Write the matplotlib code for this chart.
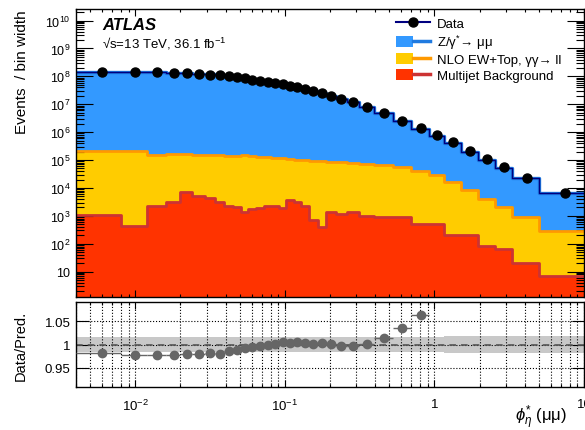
import numpy as np
import matplotlib
matplotlib.use('Agg')
import matplotlib.pyplot as plt
from matplotlib.patches import Patch
from matplotlib.lines import Line2D
from matplotlib.legend_handler import HandlerTuple
from matplotlib.ticker import FixedLocator, FuncFormatter, LogLocator, NullFormatter

plt.rcParams['font.family'] = ['Liberation Sans', 'DejaVu Sans']
plt.rcParams['mathtext.fontset'] = 'custom'
plt.rcParams['mathtext.rm'] = 'Liberation Sans'
plt.rcParams['mathtext.it'] = 'Liberation Sans:italic'
plt.rcParams['mathtext.bf'] = 'Liberation Sans:bold'

# phi*_eta bin edges
edges = [0.004, 0.008, 0.012, 0.016, 0.020, 0.024, 0.029, 0.034, 0.039, 0.045,
         0.051, 0.057, 0.064, 0.072, 0.081, 0.091, 0.102, 0.114, 0.128, 0.145,
         0.165, 0.189, 0.219, 0.258, 0.312, 0.391, 0.524, 0.695, 0.918, 1.153,
         1.496, 1.947, 2.522, 3.277, 5.0, 10.0]

# events / bin width
data_vals = [1.40e8, 1.40e8, 1.40e8, 1.32e8, 1.29e8, 1.22e8, 1.15e8, 1.09e8, 1.01e8,
             9.29e7, 8.55e7, 7.62e7, 7.01e7, 6.46e7, 5.79e7, 5.21e7, 4.65e7, 4.06e7,
             3.53e7, 3.00e7, 2.54e7, 2.03e7, 1.55e7, 1.18e7, 7.80e6, 4.75e6, 2.58e6,
             1.38e6, 7.94e5, 4.35e5, 2.17e5, 1.09e5, 5.52e4, 2.34e4, 6.62e3]

# stacked prediction (cumulative levels)
pred_total = [1.43e8, 1.43e8, 1.43e8, 1.35e8, 1.32e8, 1.25e8, 1.17e8, 1.11e8, 1.02e8,
              9.39e7, 8.62e7, 7.66e7, 7.03e7, 6.46e7, 5.78e7, 5.18e7, 4.63e7, 4.04e7,
              3.52e7, 2.99e7, 2.53e7, 2.03e7, 1.55e7, 1.18e7, 7.79e6, 4.68e6, 2.49e6,
              1.30e6, 7.41e5, 3.98e5, 2.0e5, 1.0e5, 5.13e4, 2.29e4, 6.46e3]
bkg_total = [2.1e5, 2.1e5, 1.5e5, 1.6e5, 1.6e5, 1.55e5, 1.5e5, 1.5e5, 1.45e5, 1.4e5,
             1.5e5, 1.45e5, 1.3e5, 1.25e5, 1.2e5, 1.15e5, 1.1e5, 1.05e5, 1.0e5, 9.5e4,
             9.2e4, 8.5e4, 8.2e4, 7.8e4, 7.3e4, 6.8e4, 5.8e4, 4.15e4, 2.95e4, 1.6e4,
             8.4e3, 4.1e3, 2.15e3, 930, 295]
multijet = [1100, 430, 2350, 3240, 7100, 5050, 4250, 3240, 2350, 2050,
            1350, 1770, 1850, 2350, 2350, 1870, 3800, 3250, 2350, 740,
            390, 1350, 1180, 1410, 980, 930, 930, 515, 515, 210,
            210, 85, 65, 20.5, 6.9]

# Data / Pred. (points inside the visible range)
ratio_vals = [0.982, 0.977, 0.977, 0.977, 0.979, 0.979, 0.982, 0.979, 0.987, 0.989,
              0.992, 0.995, 0.997, 1.000, 1.002, 1.005, 1.004, 1.006, 1.004, 1.002,
              1.004, 1.001, 0.997, 0.997, 1.001, 1.014, 1.036, 1.064]
band_err = [0.016] * 25 + [0.016, 0.017, 0.017, 0.017, 0.018, 0.018, 0.018, 0.019, 0.019, 0.019]

e = np.array(edges)
centers = (e[:-1] + e[1:]) / 2


def stepy(v):
    v = np.asarray(v, dtype=float)
    return np.append(v, v[-1])


W, H = 585, 431
fig = plt.figure(figsize=(W / 100, H / 100), dpi=100)
ax = fig.add_axes([76 / W, 1 - 298 / H, 508 / W, 288 / H])
rax = fig.add_axes([76 / W, 1 - 388 / H, 508 / W, 85 / H])

# main panel stack
ax.fill_between(e, 1e-3, stepy(pred_total), step='post', color='#3399ff', lw=0)
ax.step(e, stepy(pred_total), where='post', color='#1f7ae0', lw=2.4)
ax.fill_between(e, 1e-3, stepy(bkg_total), step='post', color='#ffcc00', lw=0)
ax.step(e, stepy(bkg_total), where='post', color='#ff9900', lw=2)
ax.fill_between(e, 1e-3, stepy(multijet), step='post', color='#ff3300', lw=0)
ax.step(e, stepy(multijet), where='post', color='#cc3333', lw=2)
ax.step(e, stepy(pred_total), where='post', color='#000080', lw=1)
ax.plot(centers, data_vals, 'o', color='black', ms=6.5, zorder=5)

ax.set_xscale('log')
ax.set_yscale('log')
ax.set_xlim(0.004, 10)
ax.set_ylim(1.24, 2.6e10)
ax.yaxis.set_major_locator(LogLocator(base=10, numticks=20))
ax.yaxis.set_minor_locator(LogLocator(base=10, subs=np.arange(2, 10), numticks=20))
ax.yaxis.set_minor_formatter(NullFormatter())
ax.yaxis.set_major_formatter(FuncFormatter(
    lambda v, p: '10' if abs(v - 10) < 1e-6 else r'$10^{%d}$' % round(np.log10(v))))
ax.tick_params(which='both', direction='in', top=True, right=True, labelbottom=False)
ax.tick_params(axis='y', which='major', length=12, width=0.8, labelsize=9, pad=4)
ax.tick_params(axis='y', which='minor', length=6, width=0.8)
ax.tick_params(axis='x', which='major', length=5, width=0.8)
ax.tick_params(axis='x', which='minor', length=2.5, width=0.8)
for s in ax.spines.values():
    s.set_linewidth(1)

handles = [
    Line2D([], [], color='#000080', lw=1.5, marker='o', mfc='black', mec='black', ms=6.5),
    (Patch(fc='#3399ff', ec='none'), Line2D([], [], color='#1f7ae0', lw=2.5)),
    (Patch(fc='#ffcc00', ec='none'), Line2D([], [], color='#ff9900', lw=2.5)),
    (Patch(fc='#ff3300', ec='none'), Line2D([], [], color='#cc3333', lw=2.5)),
]
labels = ['Data', 'Z/γ$^{*}$→ μμ', 'NLO EW+Top, γγ→ ll', 'Multijet Background']
ax.legend(handles, labels, loc='upper left', bbox_to_anchor=(0.616, 0.996),
          frameon=False, fontsize=9.5, borderpad=0, handlelength=2.6,
          handleheight=0.9, handletextpad=0.55, labelspacing=0.2,
          handler_map={tuple: HandlerTuple(ndivide=None, pad=0)})

fig.text(102 / W, 1 - 25.5 / H, 'ATLAS', fontsize=12, fontweight='bold',
         fontstyle='italic', va='center', ha='left')
fig.text(102 / W, 1 - 44 / H, '√s=13 TeV, 36.1 fb$^{-1}$', fontsize=9.5,
         va='center', ha='left')
fig.text(22 / W, 1 - 10 / H, 'Events  / bin width', rotation=90, fontsize=11,
         va='top', ha='center')

# ratio panel
rax.fill_between(e, 1 - stepy(band_err), 1 + stepy(band_err), step='post',
                 color='#c8c8c8', lw=0)
rax.axhline(1, color='#555555', ls=(0, (4, 3)), lw=1.2, zorder=2)
n = len(ratio_vals)
rax.errorbar(centers[:n], ratio_vals,
             xerr=[centers[:n] - e[:n], e[1:n + 1] - centers[:n]],
             fmt='o', color='#666666', ms=6, lw=1, zorder=4)
rax.set_xscale('log')
rax.set_xlim(0.004, 10)
rax.set_ylim(0.908, 1.092)
rax.yaxis.set_major_locator(FixedLocator([0.95, 1.0, 1.05]))
rax.set_yticklabels(['0.95', '1', '1.05'])
rax.xaxis.set_major_locator(FixedLocator([0.01, 0.1, 1, 10]))
rax.xaxis.set_minor_locator(LogLocator(base=10, subs=np.arange(2, 10), numticks=20))
rax.xaxis.set_minor_formatter(NullFormatter())
rax.set_xticklabels([r'$10^{-2}$', r'$10^{-1}$', '1', '10'])
rax.grid(True, which='both', axis='x', ls=':', color='black', lw=0.8)
rax.grid(True, which='major', axis='y', ls=':', color='black', lw=0.8)
rax.tick_params(which='both', direction='in', top=True, right=True)
rax.tick_params(axis='y', which='major', length=9, width=0.8, labelsize=9.5, pad=4)
rax.tick_params(axis='x', which='major', length=5, width=0.8, labelsize=9.5, pad=8)
rax.tick_params(axis='x', which='minor', length=2.5, width=0.8)
for s in rax.spines.values():
    s.set_linewidth(1)

fig.text(21 / W, 1 - 346 / H, 'Data/Pred.', rotation=90, fontsize=10.5,
         va='center', ha='center')
fig.text(567 / W, 1 - 418 / H, r'$\phi^{*}_{\eta}$ (μμ)', fontsize=12,
         va='center', ha='right')

fig.savefig('out.png', dpi=100)
